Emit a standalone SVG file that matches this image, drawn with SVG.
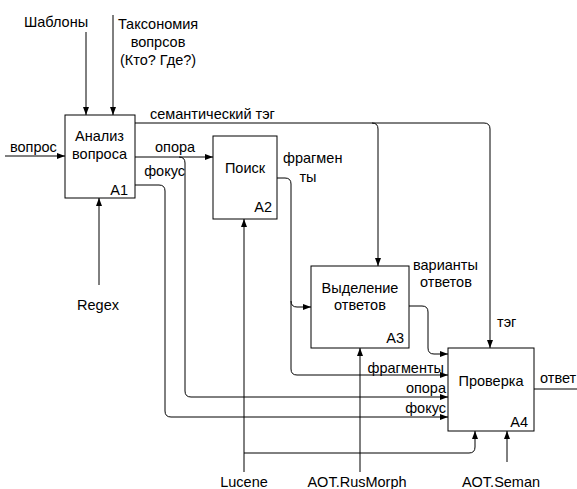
<svg xmlns="http://www.w3.org/2000/svg" width="577" height="489" viewBox="0 0 577 489">
<style>
text{font-family:"Liberation Sans",Arial,sans-serif;font-size:14.5px;fill:#000}
.box{fill:#fff;stroke:#000;stroke-width:1}
.c{fill:none;stroke:#000;stroke-width:1}
.m{text-anchor:middle}
.e{text-anchor:end}
</style>
<defs>
<marker id="a" viewBox="0 0 8 6" refX="8" refY="3" markerWidth="8" markerHeight="6" markerUnits="userSpaceOnUse" orient="auto">
<path d="M0,0 L8,3 L0,6 Z" fill="#000"/>
</marker>
</defs>
<rect width="577" height="489" fill="#fff"/>
<g id="connectors">
<path class="c" d="M86,32 V115" marker-end="url(#a)"/>
<path class="c" d="M113,15 V115" marker-end="url(#a)"/>
<path class="c" d="M5,156 H65" marker-end="url(#a)"/>
<path class="c" d="M99,285 V198" marker-end="url(#a)"/>
<path class="c" d="M135,123 H484 Q490,123 490,129 V348" marker-end="url(#a)"/>
<path class="c" d="M372,123 Q378,123 378,129 V266" marker-end="url(#a)"/>
<path class="c" d="M135,157 H213" marker-end="url(#a)"/>
<path class="c" d="M179,157 Q185,157 185,163 V391 Q185,397 191,397 H448" marker-end="url(#a)"/>
<path class="c" d="M135,185 H159 Q165,185 165,191 V411 Q165,417 171,417 H448" marker-end="url(#a)"/>
<path class="c" d="M277,178 H285 Q291,178 291,184 V369 Q291,375 297,375 H448" marker-end="url(#a)"/>
<path class="c" d="M291,301 Q291,307 297,307 H311" marker-end="url(#a)"/>
<path class="c" d="M409,306 H422 Q428,306 428,312 V348 Q428,354 434,354 H448" marker-end="url(#a)"/>
<path class="c" d="M244,472 V219" marker-end="url(#a)"/>
<path class="c" d="M244,453 H469 Q475,453 475,447 V431" marker-end="url(#a)"/>
<path class="c" d="M360,472 V348" marker-end="url(#a)"/>
<path class="c" d="M507,462 V431" marker-end="url(#a)"/>
<path class="c" d="M534,389 H577"/>
<text x="56" y="27" class="m">Шаблоны</text>
<text x="158" y="29" class="m">Таксономия</text>
<text x="158" y="47" class="m">вопрсов</text>
<text x="158" y="65" class="m">(Кто? Где?)</text>
<text x="10" y="152">вопрос</text>
<text x="98" y="310" class="m">Regex</text>
<text x="150" y="119">семантический тэг</text>
<text x="155" y="152">опора</text>
<text x="185" y="176" class="e">фокус</text>
<text x="283" y="163">фрагмен</text>
<text x="308" y="182" class="m">ты</text>
<text x="413" y="270">варианты</text>
<text x="446" y="287" class="m">ответов</text>
<text x="497" y="327">тэг</text>
<text x="444" y="373" class="e">фрагменты</text>
<text x="446" y="393" class="e">опора</text>
<text x="446" y="413" class="e">фокус</text>
<text x="540" y="383">ответ</text>
<text x="244" y="487" class="m">Lucene</text>
<text x="357" y="487" class="m">AOT.RusMorph</text>
<text x="501" y="487" class="m">AOT.Seman</text>
</g>
<g id="A1">
<rect class="box" x="65" y="115" width="70" height="83"/>
<text x="99.5" y="141" class="m">Анализ</text>
<text x="99.5" y="159" class="m">вопроса</text>
<text x="128" y="195" class="e">A1</text>
</g>
<g id="A2">
<rect class="box" x="213" y="136" width="64" height="83"/>
<text x="245" y="173" class="m">Поиск</text>
<text x="272" y="212" class="e">A2</text>
</g>
<g id="A3">
<rect class="box" x="311" y="266" width="98" height="82"/>
<text x="360" y="293" class="m">Выделение</text>
<text x="360" y="310" class="m">ответов</text>
<text x="404" y="343" class="e">A3</text>
</g>
<g id="A4">
<rect class="box" x="448" y="348" width="86" height="83"/>
<text x="491" y="386" class="m">Проверка</text>
<text x="528" y="427" class="e">A4</text>
</g>
</svg>
